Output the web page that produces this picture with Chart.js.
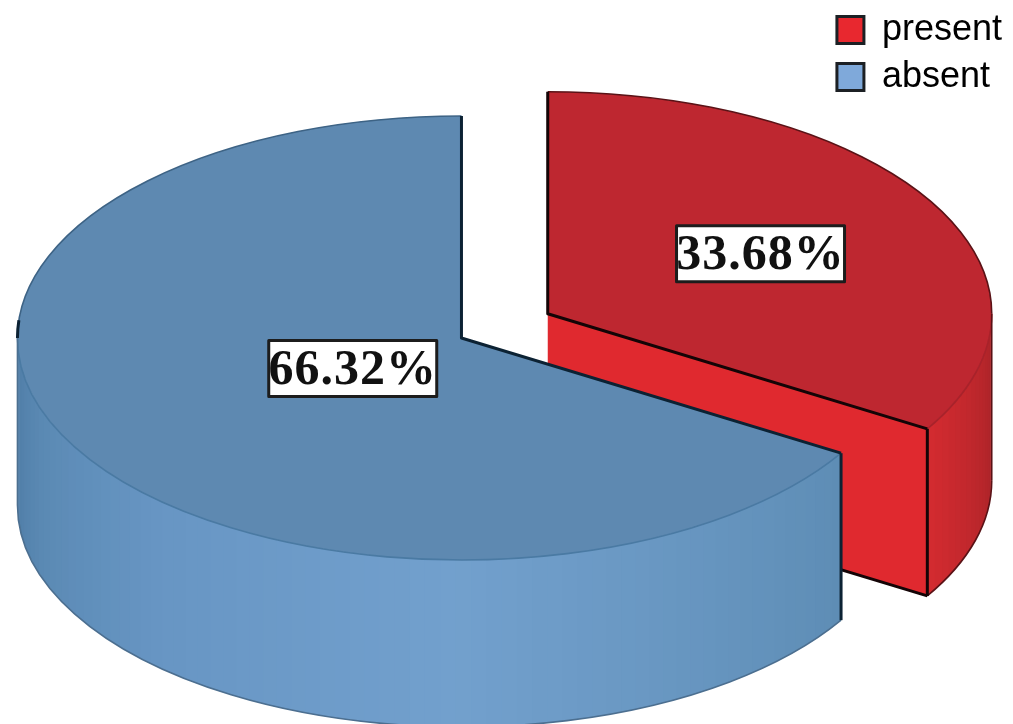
<!DOCTYPE html>
<html>
<head>
<meta charset="utf-8">
<style>
  html, body { margin: 0; padding: 0; background: #fff; }
  #wrap { width: 1013px; height: 724px; }
</style>
<script src="https://cdn.jsdelivr.net/npm/chart.js@4"></script>
</head>
<body>
<div id="wrap"><canvas id="pie-chart"></canvas></div>
<script>
const categories = ["present", "absent"];
const percents = [33.68, 66.32];

const topColors = ["#BE2730", "#5E89B1"];
const legendColors = ["#E8282F", "#7FA9DA"];
const sideStops = [
  [[0, [168, 35, 40]], [31, [212, 43, 48]]],
  [[31, [94, 141, 181]], [90, [114, 160, 205]], [130, [104, 150, 196]], [160, [90, 137, 179]], [180, [77, 122, 163]]],
];
const cutColors = ["#E0292F", "#5E8DB5"];
const rimBack = ["#5a1216", "#3d6385"];
const rimFront = ["#A8222A", "#4A7AA3"];
const rimBottom = ["#5a1216", "#4C6F90"];
const edgeColors = ["#140406", "#0c2233"];

const squash = 0.5;
const depth = 167;
const explode = [99, 0];
const labelAt = [0.55, 0.281];

function mix(stops, deg) {
  if (deg <= stops[0][0]) return "rgb(" + stops[0][1].join(",") + ")";
  for (let i = 1; i < stops.length; i++) {
    if (deg <= stops[i][0]) {
      const t = (deg - stops[i - 1][0]) / (stops[i][0] - stops[i - 1][0]);
      const c = stops[i][1].map(function (v, k) {
        return Math.round(stops[i - 1][1][k] + (v - stops[i - 1][1][k]) * t);
      });
      return "rgb(" + c.join(",") + ")";
    }
  }
  return "rgb(" + stops[stops.length - 1][1].join(",") + ")";
}

// start: 3D pie
const pie3d = {
  id: "pie3d",
  beforeDatasetsDraw(chart) {
    const ctx = chart.ctx;
    const arcs = chart.getDatasetMeta(0).data;

    arcs.forEach(function (arc, i) {
      const mid = (arc.startAngle + arc.endAngle) / 2;
      const ox = Math.cos(mid) * explode[i];
      const oy = Math.sin(mid) * explode[i];
      const r = arc.outerRadius;
      const px = function (a) {
        return arc.x + ox + r * Math.cos(a);
      };
      const py = function (a) {
        return arc.y + (oy + r * Math.sin(a)) * squash;
      };
      const ax = arc.x + ox;
      const ay = arc.y + oy * squash;

      const from = Math.max(arc.startAngle, 0);
      const to = Math.min(arc.endAngle, Math.PI);

      // side wall, as thin vertical strips
      const n = Math.ceil((to - from) / 0.035);
      for (let s = 0; s < n; s++) {
        const a0 = from + ((to - from) * s) / n;
        const a1 = Math.min(from + ((to - from) * (s + 1.4)) / n, to);
        ctx.fillStyle = mix(sideStops[i], (a0 * 180) / Math.PI);
        ctx.beginPath();
        ctx.moveTo(px(a0), py(a0));
        ctx.lineTo(px(a1), py(a1));
        ctx.lineTo(px(a1), py(a1) + depth);
        ctx.lineTo(px(a0), py(a0) + depth);
        ctx.closePath();
        ctx.fill();
      }

      // cut face of the slice, when it looks towards the viewer
      const cutVisible = Math.cos(arc.endAngle) > 0.01;
      if (cutVisible) {
        ctx.fillStyle = cutColors[i];
        ctx.beginPath();
        ctx.moveTo(ax, ay);
        ctx.lineTo(px(arc.endAngle), py(arc.endAngle));
        ctx.lineTo(px(arc.endAngle), py(arc.endAngle) + depth);
        ctx.lineTo(ax, ay + depth);
        ctx.closePath();
        ctx.fill();
      }

      // top face is the library's own arc, flattened
      ctx.save();
      ctx.translate(ox, arc.y + oy * squash);
      ctx.scale(1, squash);
      ctx.translate(0, -arc.y);
      arc.draw(ctx);
      ctx.restore();

      // outlines
      ctx.lineJoin = "round";
      ctx.lineWidth = 1.6;
      ctx.strokeStyle = rimBack[i];
      ctx.beginPath();
      ctx.ellipse(ax, ay, r, r * squash, 0, Math.max(arc.startAngle, Math.PI), Math.max(arc.endAngle, Math.PI));
      ctx.stroke();
      ctx.beginPath();
      ctx.ellipse(ax, ay, r, r * squash, 0, Math.min(arc.startAngle, 0), Math.min(arc.endAngle, 0));
      ctx.stroke();
      ctx.strokeStyle = rimFront[i];
      ctx.beginPath();
      ctx.ellipse(ax, ay, r, r * squash, 0, from, to);
      ctx.stroke();

      ctx.strokeStyle = rimBottom[i];
      ctx.beginPath();
      ctx.ellipse(ax, ay + depth, r, r * squash, 0, from, to);
      ctx.stroke();

      // silhouette side and the sharp radial edges
      const sharp = [arc.startAngle, arc.endAngle].filter(function (a) {
        return a > 0.01 && a < Math.PI - 0.01;
      });
      [from, to].forEach(function (a) {
        if (sharp.indexOf(a) >= 0) return;
        ctx.beginPath();
        ctx.moveTo(px(a), py(a));
        ctx.lineTo(px(a), py(a) + depth);
        ctx.stroke();
      });

      ctx.strokeStyle = edgeColors[i];
      ctx.lineWidth = 3;
      ctx.beginPath();
      ctx.moveTo(px(arc.startAngle), py(arc.startAngle));
      ctx.lineTo(ax, ay);
      ctx.lineTo(px(arc.endAngle), py(arc.endAngle));
      ctx.stroke();
      sharp.forEach(function (a) {
        ctx.beginPath();
        ctx.moveTo(px(a), py(a));
        ctx.lineTo(px(a), py(a) + depth);
        ctx.stroke();
      });
      if (cutVisible) {
        ctx.beginPath();
        ctx.moveTo(px(arc.endAngle), py(arc.endAngle) + depth);
        ctx.lineTo(ax, ay + depth);
        ctx.stroke();
      }

      // short dark stretch where the blue rim turns at the far left
      if (arc.startAngle < Math.PI && arc.endAngle > Math.PI) {
        ctx.beginPath();
        ctx.ellipse(ax, ay, r, r * squash, 0, Math.PI, Math.PI + 0.08);
        ctx.stroke();
      }
    });

    // percent boxes
    ctx.font = "bold 50px 'Liberation Serif'";
    ctx.letterSpacing = "1px";
    ctx.textAlign = "center";
    ctx.textBaseline = "middle";
    arcs.forEach(function (arc, i) {
      const mid = (arc.startAngle + arc.endAngle) / 2;
      const f = arc.outerRadius * labelAt[i] + explode[i];
      const x = arc.x + Math.cos(mid) * f;
      const y = arc.y + Math.sin(mid) * f * squash;
      const text = percents[i].toFixed(2) + "%";
      ctx.fillStyle = "#fff";
      ctx.strokeStyle = "#1c1c1c";
      ctx.lineWidth = 3;
      ctx.fillRect(x - 84, y - 28, 168, 56);
      ctx.strokeRect(x - 84, y - 28, 168, 56);
      ctx.fillStyle = "#111";
      ctx.fillText(text, x, y + 2);
    });
    ctx.letterSpacing = "0px";

    return false;
  },
};
// end: 3D pie

new Chart(document.getElementById("pie-chart"), {
  type: "pie",
  data: {
    labels: categories,
    datasets: [
      {
        data: percents,
        backgroundColor: topColors,
        borderWidth: 0,
      },
    ],
  },
  options: {
    responsive: true,
    maintainAspectRatio: false,
    animation: false,
    radius: 444,
    layout: { padding: { left: 97, right: 1, top: 1, bottom: 49 } },
    plugins: {
      tooltip: { enabled: false },
      legend: {
        position: "right",
        align: "start",
        labels: {
          boxWidth: 27,
          boxHeight: 27,
          padding: 11,
          color: "#222",
          font: { family: "'Liberation Sans'", size: 36 },
          generateLabels: function () {
            return categories.map(function (name, i) {
              return {
                text: name,
                fillStyle: legendColors[i],
                strokeStyle: "#1c2024",
                lineWidth: 3,
                index: i,
              };
            });
          },
        },
      },
    },
  },
  plugins: [pie3d],
});
</script>
</body>
</html>
